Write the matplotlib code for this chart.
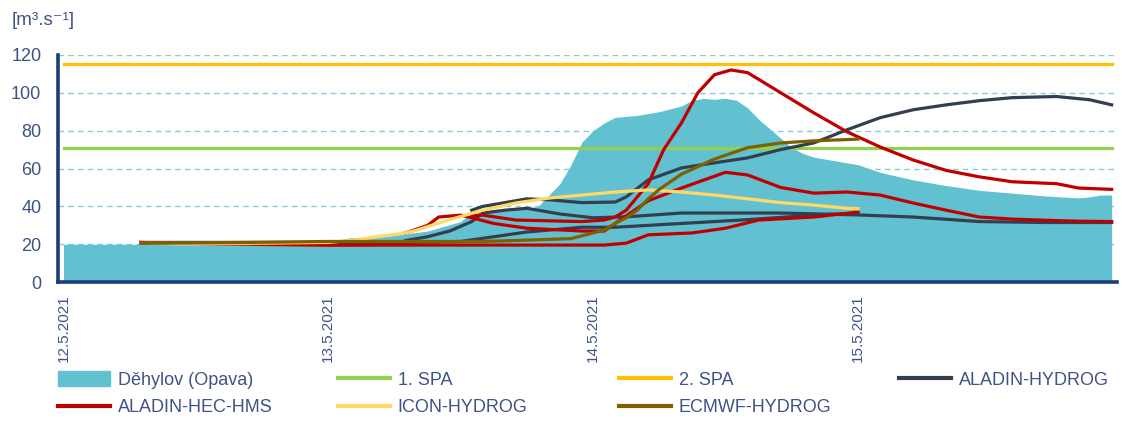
import matplotlib.pyplot as plt
from matplotlib.patches import Patch
from matplotlib.lines import Line2D

# hours since 12.5.2021 00:00
obs_h = [0, 8, 12, 17, 22, 24, 26, 29, 33, 36, 37, 40, 42, 43, 45, 46, 47, 48, 49, 50,
         52, 54, 56, 57, 58, 59, 60, 61, 62, 63, 64, 65, 66, 67, 68, 70, 72, 74, 77,
         80, 83, 86, 89, 92, 93, 94, 95]
obs_q = [20, 20, 19.5, 19.5, 20, 21, 23.5, 24, 27, 32, 37, 38, 39, 40, 52, 62, 74, 80, 84, 87,
         88, 90, 93, 96, 97, 96.5, 97, 96, 92, 86, 81, 76, 71, 68, 66, 64, 62, 58, 54,
         51, 48.5, 47, 45.5, 44.5, 45, 46, 46]

spa1 = 71
spa2 = 115

# forecast issued 12.5. morning
ah1_h = [7, 17, 24, 31, 36, 42, 47, 50, 56, 62, 68, 72]
ah1_q = [21, 21, 21, 21, 21.5, 26.5, 29, 29, 31, 33, 35.4, 36.5]
hms1_h = [7, 10, 17, 24, 31, 40, 49, 51, 53, 57, 60, 63, 68, 72]
hms1_q = [21, 20.5, 20, 19.5, 19.6, 19.6, 19.6, 20.6, 25, 26, 28.5, 32.8, 34.4, 37]
icon_h = [7, 17, 24, 26, 31, 32, 35, 38, 41, 44, 47, 50, 53, 56, 59, 62, 65, 68, 71, 72]
icon_q = [20.5, 20.5, 21, 22, 26, 27.5, 33, 38, 41.8, 44.4, 46, 47.6, 48.7, 47.6, 46, 44,
          42, 40.7, 39, 38.8]
ecmwf_h = [7, 17, 24, 31, 38, 41, 46, 49, 50, 51, 52, 53, 54, 56, 59, 62, 65, 68, 72]
ecmwf_q = [20.5, 21, 21.5, 21.5, 21.5, 22, 23, 27.5, 31, 34, 38, 44, 49, 57, 65, 71, 73.5,
           74.6, 75.5]

# forecast issued 13.5. morning
ah2_h = [31, 33, 35, 37, 38, 40, 42, 45, 48, 51, 56, 65, 72, 77, 83, 89, 95]
ah2_q = [22, 24, 27, 32, 36.5, 38, 39, 36, 34, 34.5, 36.5, 36.5, 35.5, 34.4, 32, 31.5, 31.5]
hms2_h = [31, 33, 34, 36, 37, 39, 42, 47, 49, 50, 53, 56, 60, 62, 65, 68, 71, 74, 77, 80,
          83, 86, 90, 92, 95]
hms2_q = [26, 30, 34.4, 35.4, 34, 31, 28.5, 27, 27, 31, 43, 49.7, 58, 56.6, 50, 47, 47.6,
          46, 41.8, 38, 34.4, 33.3, 32.5, 32.2, 32]

# forecast issued 13.5. midday
ah3_h = [37, 38, 40, 42, 44, 47, 50, 51, 53, 56, 59, 62, 65, 68, 71, 74, 77, 80, 83, 86,
         90, 93, 95]
ah3_q = [38, 40, 42, 44, 43.5, 42, 42.3, 45, 54, 60.3, 63, 65.6, 70, 73.5, 80.4, 86.8, 91,
         93.6, 95.8, 97.4, 98, 96.3, 93.6]
hms3_h = [37, 38, 41, 47, 49, 50, 51, 53, 54.4, 56, 57.5, 59, 60.5, 62, 65, 68, 71, 74,
          77, 80, 83, 86, 90, 92, 95]
hms3_q = [35, 35.4, 32.8, 32, 32.8, 34.4, 38, 52, 70, 84, 100, 109.5, 112, 110.6, 100,
          89.4, 79.4, 71.4, 64.5, 59, 55.6, 53, 52, 49.7, 49]

day_ticks = [0, 24, 48, 72]
day_labels = ['12.5.2021', '13.5.2021', '14.5.2021', '15.5.2021']

c_obs = '#62C1D0'
c_spa1 = '#92D050'
c_spa2 = '#FFC000'
c_ah = '#333F50'
c_hms = '#C00000'
c_icon = '#FFD966'
c_ecmwf = '#7F6000'
c_axis = '#1F3B7A'
c_text = '#3E5485'

fig = plt.figure(figsize=(11.22, 4.25), dpi=100)
ax = fig.add_axes([0.0517, 0.336, 0.944, 0.535])

ax.fill_between(obs_h, obs_q, 0, color=c_obs, lw=0, zorder=1)
lw = 2.3
ax.plot([0, 95], [spa1, spa1], color=c_spa1, lw=lw, zorder=2)
ax.plot([0, 95], [spa2, spa2], color=c_spa2, lw=lw, zorder=2)

for h, q in [(ah1_h, ah1_q), (ah2_h, ah2_q), (ah3_h, ah3_q)]:
    ax.plot(h, q, color=c_ah, lw=lw, zorder=3)
for h, q in [(hms1_h, hms1_q), (hms2_h, hms2_q), (hms3_h, hms3_q)]:
    ax.plot(h, q, color=c_hms, lw=lw, zorder=4)
ax.plot(icon_h, icon_q, color=c_icon, lw=lw, zorder=5)
ax.plot(ecmwf_h, ecmwf_q, color=c_ecmwf, lw=lw, zorder=6)

ax.set_xlim(-0.5, 95.5)
ax.set_ylim(0, 120)
ax.set_yticks(range(0, 121, 20))
ax.set_xticks(day_ticks)
ax.set_xticklabels(day_labels, rotation=90, va='top', ha='center')
ax.tick_params(length=0, labelcolor=c_text)
ax.tick_params(axis='y', labelsize=13, pad=12)
ax.tick_params(axis='x', labelsize=11, pad=9)
for lab in ax.get_xticklabels() + ax.get_yticklabels():
    lab.set_family('Liberation Sans')

ax.set_axisbelow(True)
ax.yaxis.grid(True, color='#86CCDA', lw=1, linestyle=(0, (4, 3)))
for s in ['top', 'right']:
    ax.spines[s].set_visible(False)
for s in ['left', 'bottom']:
    ax.spines[s].set_color(c_axis)
    ax.spines[s].set_linewidth(2.6)
    ax.spines[s].set_zorder(7)

fig.text(0.010, 0.952, '[m³.s⁻¹]', fontsize=13.5, color=c_text,
         family=['Liberation Sans', 'DejaVu Sans'], va='center')

# legend, one column at a time
def lh(c):
    return Line2D([], [], color=c, lw=3)

legend_cols = [
    (58, [Patch(color=c_obs), lh(c_hms)], ['Děhylov (Opava)', 'ALADIN-HEC-HMS']),
    (338, [lh(c_spa1), lh(c_icon)], ['1. SPA', 'ICON-HYDROG']),
    (619, [lh(c_spa2), lh(c_ecmwf)], ['2. SPA', 'ECMWF-HYDROG']),
    (899, [lh(c_ah)], ['ALADIN-HYDROG']),
]
for x0, handles, labels in legend_cols:
    leg = fig.legend(handles, labels, loc='upper left',
                     bbox_to_anchor=(x0 / 1122, 1 - 371 / 425),
                     frameon=False, borderpad=0, borderaxespad=0,
                     handlelength=2.9, handleheight=0.9, handletextpad=0.4,
                     labelspacing=0.55,
                     prop={'family': ['Liberation Sans', 'DejaVu Sans'], 'size': 13})
    for t in leg.get_texts():
        t.set_color(c_text)

fig.savefig('out.png', dpi=100)
